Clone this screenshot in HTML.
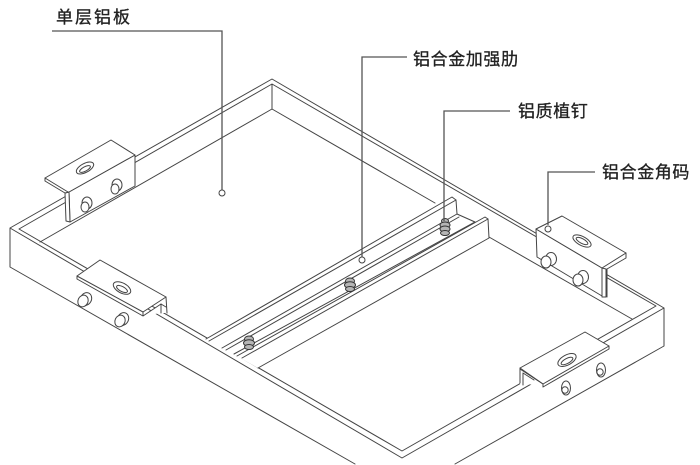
<!DOCTYPE html>
<html>
<head>
<meta charset="utf-8">
<style>
html,body{margin:0;padding:0;background:#fff;overflow:hidden;width:700px;height:465px;}
svg{display:block;width:700px;height:465px;filter:blur(.3px);}
text{font-family:"Liberation Sans","Noto Sans CJK SC",sans-serif;font-size:17px;fill:#222;stroke:#222;stroke-width:.3px;letter-spacing:.6px;}
.l{fill:none;stroke:#444;stroke-width:1;stroke-linejoin:round;stroke-linecap:round;}
.w{fill:#fff;stroke:#444;stroke-width:1;stroke-linejoin:round;}
.t{fill:none;stroke:#555;stroke-width:1.3;}
.b{fill:#fff;stroke:#444;stroke-width:1;}
</style>
</head>
<body>
<svg xmlns="http://www.w3.org/2000/svg" viewBox="0 0 700 465" width="700" height="465">
<rect width="700" height="465" fill="#fff"/>

<!-- tray -->
<path class="l" d="M10,228V267L355,464M455,464L664,346V308L272,79L10,228L402,458L664,308"/>
<path class="l" d="M272,84L19,229L402,451L656,306L272,84V109"/>
<path class="l" d="M272,109L40,242M272,109L435,203M489,237L632,319"/>

<!-- reinforcing rib -->
<path d="M206,339L452,197L456,200L457,214L485,217L488,219L489,238L258,368Z" fill="#fff"/>
<path class="l" d="M206,339L452,197L456,200L457,214L222,348"/>
<path class="l" d="M209,341L456,200"/>
<path class="l" d="M226,350L459,217"/>
<path class="l" d="M457,214L475,222L234,354"/>
<path class="l" d="M237,356L485,217L488,219L489,238L258,368"/>
<path class="l" d="M242,358L488,219"/>
<!-- rail studs -->
<g fill="#b5b5b5" stroke="#333" stroke-width="1">
<ellipse cx="249" cy="339" rx="4.5" ry="3"/><ellipse cx="249" cy="343" rx="5.5" ry="3.2"/><ellipse cx="249" cy="347" rx="4.5" ry="2.5"/>
<ellipse cx="350" cy="281" rx="4.5" ry="3"/><ellipse cx="350" cy="285" rx="5.5" ry="3.2"/><ellipse cx="350" cy="289" rx="4.5" ry="2.5"/>
<ellipse cx="445" cy="221" rx="3.5" ry="2.5"/><ellipse cx="445" cy="225" rx="5" ry="3"/><ellipse cx="445" cy="229" rx="5" ry="3"/><ellipse cx="445" cy="233" rx="4.5" ry="2.5"/>
</g>

<!-- top-left bracket -->
<path class="w" d="M69,192L135,155V186L70,222Z"/>
<path class="w" d="M65,193L69,192L70,222L66,221Z"/>
<path class="w" d="M45,178L111,140L135,155L69,192L65,193L45,181Z"/>
<path class="l" d="M45,178L68,192"/>
<ellipse class="l" cx="85" cy="168" rx="9.5" ry="4.5" transform="rotate(-28 85 168)"/>
<ellipse class="l" cx="85" cy="169" rx="6" ry="2.2" transform="rotate(-28 85 169)"/>
<ellipse class="b" cx="87" cy="203" rx="5" ry="6"/><ellipse class="b" cx="85" cy="207" rx="4" ry="5"/>
<ellipse class="b" cx="117" cy="185" rx="5" ry="6"/><ellipse class="b" cx="115" cy="189" rx="4" ry="5"/>

<!-- bottom-left bracket -->
<path class="w" d="M143,316L161,304L166,297L167,313L161,313Z" style="stroke:none"/>
<path class="l" d="M166,297L167,313M161,304V313M161,304L166,307"/>
<path class="w" d="M77,276L100,260L166,297L143,312Z"/>
<path class="l" d="M77,276V279L143,316V312M143,316L161,304"/>
<ellipse class="l" cx="122" cy="288" rx="9.5" ry="5" transform="rotate(28 122 288)"/>
<ellipse class="l" cx="122" cy="289" rx="6" ry="2.5" transform="rotate(28 122 289)"/>
<ellipse class="b" cx="86" cy="299" rx="5.5" ry="6.5" transform="rotate(25 86 299)"/>
<ellipse class="b" cx="83" cy="301" rx="5" ry="6" transform="rotate(25 83 301)"/>
<ellipse class="b" cx="123" cy="319" rx="5.5" ry="6.5" transform="rotate(25 123 319)"/>
<ellipse class="b" cx="120" cy="321" rx="5" ry="6" transform="rotate(25 120 321)"/>

<!-- bottom-right bracket -->
<path d="M520,368L543,385L520,384Z" fill="#fff"/>
<path class="l" d="M520,368V383M523,373V385M523,373L534,380"/>
<path class="w" d="M520,368L585,332L609,346L543,384Z"/>
<path class="l" d="M609,346V349L543,387V384M520,369L543,384"/>
<ellipse class="l" cx="567" cy="360" rx="10" ry="5" transform="rotate(-28 567 360)"/>
<ellipse class="l" cx="567" cy="361" rx="6.5" ry="2.5" transform="rotate(-28 567 361)"/>
<ellipse class="b" cx="566" cy="388" rx="4.5" ry="7"/>
<circle class="l" cx="565" cy="390" r="3.2"/>
<ellipse class="b" cx="601" cy="370" rx="4.5" ry="7"/>
<circle class="l" cx="600" cy="372" r="3.2"/>

<!-- right bracket -->
<path class="w" d="M536,229L602,268V296L537,257Z"/>
<path class="w" d="M602,268L606,269V297H602Z"/>
<path class="w" d="M536,229L562,216L626,253L602,268Z"/>
<path class="l" d="M626,253V258L607,269V297"/>
<ellipse class="l" cx="582" cy="241" rx="10" ry="4.5" transform="rotate(28 582 241)"/>
<ellipse class="l" cx="582" cy="241" rx="6.5" ry="2.3" transform="rotate(28 582 241)"/>
<ellipse class="b" cx="551" cy="259" rx="5.5" ry="6.5"/><ellipse class="b" cx="546" cy="262" rx="5" ry="6"/>
<ellipse class="b" cx="583" cy="277" rx="5.5" ry="6.5"/><ellipse class="b" cx="578" cy="280" rx="5" ry="6"/>

<!-- leaders -->
<path class="t" d="M52,31H222V190"/>
<circle class="l" cx="222" cy="193" r="3"/>
<path class="t" d="M407,57H362V257"/>
<circle class="l" cx="362" cy="260" r="3"/>
<path class="t" d="M510,111H444V221"/>
<path class="t" d="M595,172H548V225"/>
<circle class="l" cx="548" cy="229" r="3"/>

<!-- labels -->
<text x="56" y="23" style="letter-spacing:2px">单层铝板</text>
<text x="413" y="65">铝合金加强肋</text>
<text x="518" y="117">铝质植钉</text>
<text x="602" y="178">铝合金角码</text>
</svg>
</body>
</html>
